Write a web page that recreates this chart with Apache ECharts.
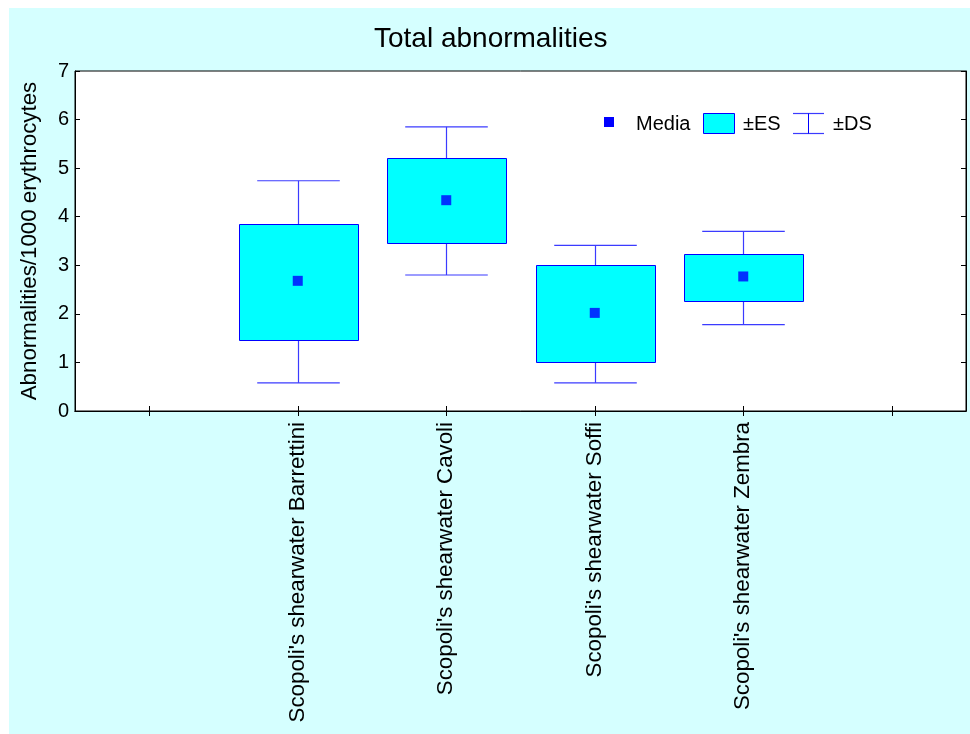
<!DOCTYPE html>
<html>
<head>
<meta charset="utf-8">
<title>Total abnormalities</title>
<script src="https://cdn.jsdelivr.net/npm/echarts@6/dist/echarts.min.js"></script>
<style>
  html, body { margin: 0; padding: 0; background: #ffffff; }
  #chart { width: 970px; height: 734px; }
</style>
</head>
<body>
<div id="chart"></div>
<script>
// Groups of birds sampled
const groups = [
  "Scopoli's shearwater Barrettini",
  "Scopoli's shearwater Cavoli",
  "Scopoli's shearwater Soffi",
  "Scopoli's shearwater Zembra"
];
// Mean number of abnormalities per 1000 erythrocytes
const media = [2.68, 4.34, 2.02, 2.77];
// Lower / upper limits of mean ± standard error
const esLow = [1.46, 3.45, 1.00, 2.26];
const esHigh = [3.86, 5.21, 3.00, 3.23];
// Lower / upper limits of mean ± standard deviation
const dsLow = [0.58, 2.80, 0.58, 1.78];
const dsHigh = [4.74, 5.85, 3.41, 3.70];
// Y axis ticks
const yTicks = [0, 1, 2, 3, 4, 5, 6, 7];

const FONT = "'Liberation Sans', Arial, Helvetica, sans-serif";
const BLUE = '#0000ff';
const CYAN = '#00ffff';
const WHISKER = '#3b3bff';

// One empty slot on either side of the four groups
const categories = [''].concat(groups, ['']);

const boxData = groups.map((g, i) => [i + 1, dsLow[i], esLow[i], media[i], esHigh[i], dsHigh[i]]);
const meanData = groups.map((g, i) => [i + 1, media[i]]);

const chart = echarts.init(document.getElementById('chart'), null, { renderer: 'canvas' });

// Box (± standard error) with whiskers (± standard deviation)
function renderBox(params, api) {
  const xi = api.value(0);
  const pDsLo = api.coord([xi, api.value(1)]);
  const pEsLo = api.coord([xi, api.value(2)]);
  const pEsHi = api.coord([xi, api.value(4)]);
  const pDsHi = api.coord([xi, api.value(5)]);
  const band = api.size([1, 0])[0];
  const boxW = band * 0.8;
  const capW = band * 0.556;
  const cx = Math.round(pEsHi[0]) + 0.5;
  const whisker = { stroke: WHISKER, lineWidth: 1.2 };
  const x0 = Math.round(cx - boxW / 2) + 0.5;
  const x1 = Math.round(cx + boxW / 2) + 0.5;
  const yTop = Math.round(pEsHi[1]) + 0.5;
  const yBot = Math.round(pEsLo[1]) + 0.5;
  return {
    type: 'group',
    children: [
      { type: 'line', shape: { x1: cx, y1: pDsHi[1], x2: cx, y2: yTop }, style: whisker },
      { type: 'line', shape: { x1: cx, y1: yBot, x2: cx, y2: pDsLo[1] }, style: whisker },
      { type: 'line', shape: { x1: cx - capW / 2, y1: pDsHi[1], x2: cx + capW / 2, y2: pDsHi[1] }, style: whisker },
      { type: 'line', shape: { x1: cx - capW / 2, y1: pDsLo[1], x2: cx + capW / 2, y2: pDsLo[1] }, style: whisker },
      {
        type: 'rect',
        shape: { x: x0, y: yTop, width: x1 - x0, height: yBot - yTop },
        style: { fill: CYAN, stroke: BLUE, lineWidth: 1 }
      }
    ]
  };
}

const axisLineStyle = { color: '#000000', width: 1 };

const option = {
  backgroundColor: '#ffffff',
  animation: false,
  title: {
    text: 'Total abnormalities',
    left: 369,
    top: 20,
    textStyle: { fontFamily: FONT, fontSize: 28, fontWeight: 'normal', color: '#000000' }
  },
  grid: {
    left: 75, top: 71, right: 4, bottom: 323,
    show: true, backgroundColor: '#ffffff', borderColor: '#000000', borderWidth: 1
  },
  xAxis: [
    {
      type: 'category',
      data: categories,
      position: 'bottom',
      axisLine: { lineStyle: axisLineStyle },
      axisTick: { show: true, inside: true, length: 5, alignWithLabel: true, interval: 0, lineStyle: axisLineStyle },
      axisLabel: { interval: 0, rotate: 90, margin: 11, fontFamily: FONT, fontSize: 22.3, color: '#000000' },
      splitLine: { show: false }
    },
    {
      type: 'category',
      data: categories,
      position: 'top',
      axisLine: { lineStyle: axisLineStyle },
      axisTick: { show: true, inside: true, length: 5, alignWithLabel: true, interval: 0, lineStyle: axisLineStyle },
      axisLabel: { show: false },
      splitLine: { show: false }
    }
  ],
  yAxis: [
    {
      type: 'value',
      min: yTicks[0],
      max: yTicks[yTicks.length - 1],
      interval: 1,
      position: 'left',
      name: 'Abnormalities/1000 erythrocytes',
      nameLocation: 'middle',
      nameGap: 34,
      nameTextStyle: { fontFamily: FONT, fontSize: 22.3, color: '#000000' },
      axisLine: { show: true, lineStyle: axisLineStyle },
      axisTick: { show: true, inside: true, length: 5, lineStyle: axisLineStyle },
      axisLabel: { margin: 6, fontFamily: FONT, fontSize: 20, color: '#000000' },
      splitLine: { show: false }
    },
    {
      type: 'value',
      min: yTicks[0],
      max: yTicks[yTicks.length - 1],
      interval: 1,
      position: 'right',
      axisLine: { show: true, lineStyle: axisLineStyle },
      axisTick: { show: true, inside: true, length: 5, lineStyle: axisLineStyle },
      axisLabel: { show: false },
      splitLine: { show: false }
    }
  ],
  graphic: [
    // Chart background panel
    {
      type: 'rect', z: -100, silent: true,
      shape: { x: 9, y: 8, width: 961, height: 726 },
      style: { fill: '#d5ffff' }
    },
    // Legend
    {
      type: 'group', z: 100,
      children: [
        { type: 'rect', shape: { x: 604, y: 117, width: 10, height: 10 }, style: { fill: BLUE } },
        { type: 'text', x: 636, y: 124, style: { text: 'Media', fontFamily: FONT, fontSize: 20, fill: '#000000', verticalAlign: 'middle' } },
        { type: 'rect', shape: { x: 703.5, y: 113.5, width: 31, height: 20 }, style: { fill: CYAN, stroke: BLUE, lineWidth: 1 } },
        { type: 'text', x: 743, y: 124, style: { text: '±ES', fontFamily: FONT, fontSize: 20, fill: '#000000', verticalAlign: 'middle' } },
        { type: 'line', shape: { x1: 793, y1: 113.5, x2: 824, y2: 113.5 }, style: { stroke: WHISKER, lineWidth: 1.2 } },
        { type: 'line', shape: { x1: 793, y1: 133.5, x2: 824, y2: 133.5 }, style: { stroke: WHISKER, lineWidth: 1.2 } },
        { type: 'line', shape: { x1: 808.5, y1: 113.5, x2: 808.5, y2: 133.5 }, style: { stroke: BLUE, lineWidth: 1 } },
        { type: 'text', x: 833, y: 124, style: { text: '±DS', fontFamily: FONT, fontSize: 20, fill: '#000000', verticalAlign: 'middle' } }
      ]
    }
  ],
  series: [
    {
      name: '±ES',
      type: 'custom',
      xAxisIndex: 0,
      yAxisIndex: 0,
      renderItem: renderBox,
      encode: { x: 0, y: [1, 2, 3, 4, 5] },
      data: boxData,
      z: 2
    },
    {
      name: 'Media',
      type: 'scatter',
      xAxisIndex: 0,
      yAxisIndex: 0,
      symbol: 'rect',
      symbolSize: 10,
      itemStyle: { color: BLUE },
      data: meanData,
      z: 5
    }
  ]
};

chart.setOption(option);
</script>
</body>
</html>
